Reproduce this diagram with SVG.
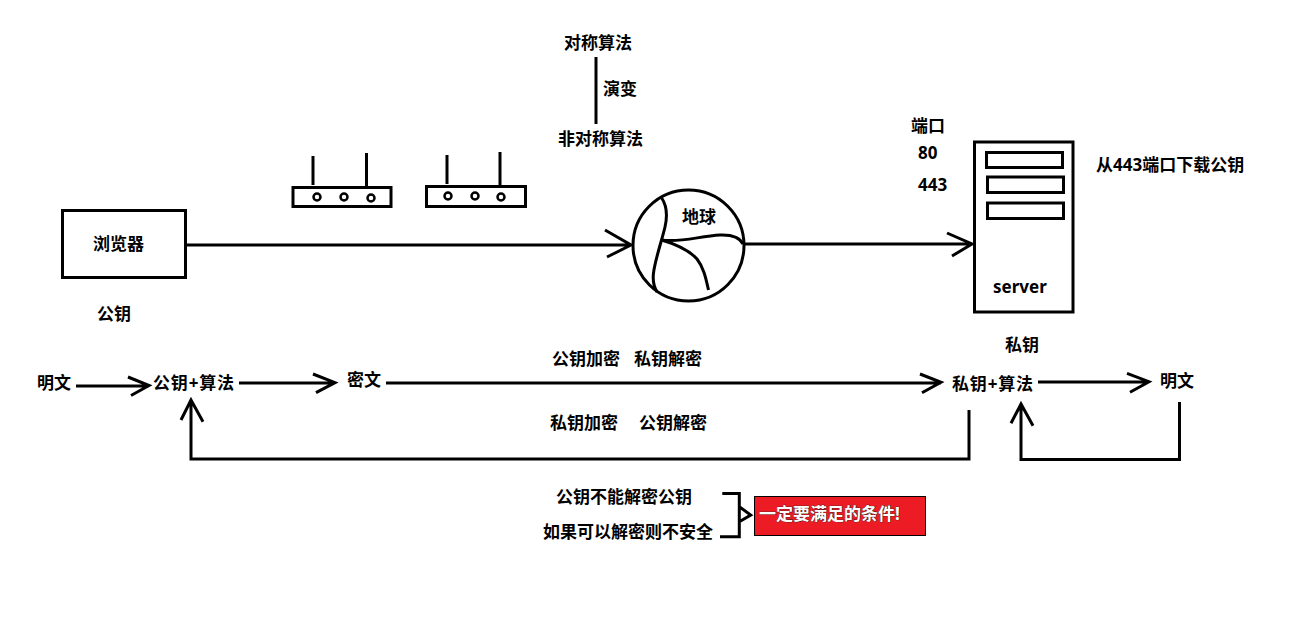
<svg xmlns="http://www.w3.org/2000/svg" width="1307" height="632" viewBox="0 0 1307 632">
<style>
.l{fill:none;stroke:#000;stroke-width:3}
.t{font-family:"Noto Sans","Noto Sans CJK SC",sans-serif;font-size:17px;font-weight:700;fill:#000}
.w{fill:#fff;stroke:#1a1a1a;stroke-width:.7px;paint-order:stroke}
.c{fill:#fff;stroke:#000;stroke-width:2.500}
</style>
<rect width="1307" height="632" fill="#fff"/>
<g id="connectors">
<path class="l" d="M187 245H631M605 230L631 245L607 257"/>
<path class="l" d="M745 244H972M947 233L972 244L952 256"/>
<path class="l" d="M76 386H149M128 377L149 385.500L131 395.500"/>
<path class="l" d="M239 383H335M313 374L335 382.700L316 392.700"/>
<path class="l" d="M386 383H941M920 374L941 382.300L922 392.700"/>
<path class="l" d="M1038 382H1149M1127 373.300L1149 381.700L1130 392.300"/>
<path class="l" d="M969 410V459H191V401M181 420L191 400L203 421.700"/>
<path class="l" d="M1179.500 402V459.500H1021V405M1011 423.300L1021 404L1033 425.700"/>
<path class="l" d="M596 57V124"/>
<path class="l" d="M722.300 493.500H739.300V536.700H720M739.300 506.700L750.700 515L739.300 521.700"/>
</g>
<g id="browser">
<rect class="l" x="62.500" y="210.500" width="123" height="67"/>
<text class="t" x="93" y="250">浏览器</text>
</g>
<g id="router1">
<path class="l" d="M313 156V185M366.500 153V186"/>
<rect class="l" x="293" y="187.500" width="98" height="19"/>
<circle class="c" cx="317" cy="197" r="3.500"/>
<circle class="c" cx="344" cy="197" r="3.500"/>
<circle class="c" cx="371" cy="198" r="3.500"/>
</g>
<g id="router2">
<path class="l" d="M447 155V184M500 152V185"/>
<rect class="l" x="426.500" y="186.500" width="99" height="20"/>
<circle class="c" cx="448" cy="196" r="3.500"/>
<circle class="c" cx="475" cy="196" r="3.500"/>
<circle class="c" cx="501" cy="197" r="3.500"/>
</g>
<g id="earth">
<circle class="l" cx="688.500" cy="245.500" r="55.500"/>
<path class="l" d="M661.700 198C667 206 667.500 216 665 227C662 240 655 260 653.500 273C652.500 281 654 287 657 292"/>
<path class="l" d="M661.700 240C680 243 700 236 720 235C732 234.500 740 238 743 244"/>
<path class="l" d="M661.700 240C675 244 689 250 697 259C704 268 706 279 708.500 290"/>
<text class="t" x="682" y="223">地球</text>
</g>
<g id="server">
<rect class="l" x="974.500" y="142" width="98.500" height="170"/>
<rect class="l" x="986.500" y="152.500" width="76" height="15"/>
<rect class="l" x="987.500" y="177" width="76" height="15.500"/>
<rect class="l" x="987.500" y="203" width="76" height="15.500"/>
<text class="t" x="993" y="293">server</text>
</g>
<g id="labels">
<text class="t" x="564" y="48.500">对称算法</text>
<text class="t" x="603" y="94.500">演变</text>
<text class="t" x="558" y="144.500">非对称算法</text>
<text class="t" x="97" y="320">公钥</text>
<text class="t" x="911" y="132">端口</text>
<text class="t" x="918" y="159">80</text>
<text class="t" x="918" y="191">443</text>
<text class="t" x="1096" y="171">从443端口下载公钥</text>
<text class="t" x="1005" y="351">私钥</text>
<text class="t" x="552" y="365">公钥加密</text>
<text class="t" x="634" y="365">私钥解密</text>
<text class="t" x="550" y="429">私钥加密</text>
<text class="t" x="639" y="429">公钥解密</text>
<text class="t" x="556" y="503">公钥不能解密公钥</text>
<text class="t" x="543" y="538">如果可以解密则不安全</text>
</g>
<g id="plain-left"><text class="t" x="37" y="389">明文</text></g>
<g id="public-algo"><text class="t" x="153" y="389" textLength="81">公钥+算法</text></g>
<g id="cipher"><text class="t" x="347" y="386">密文</text></g>
<g id="private-algo"><text class="t" x="952" y="390" textLength="81">私钥+算法</text></g>
<g id="plain-right"><text class="t" x="1160" y="387">明文</text></g>
<g id="condition">
<rect x="754.500" y="496.500" width="171" height="39" fill="#ed1c24" stroke="#000"/>
<text class="t w" x="759" y="520">一定要满足的条件!</text>
</g>
</svg>
